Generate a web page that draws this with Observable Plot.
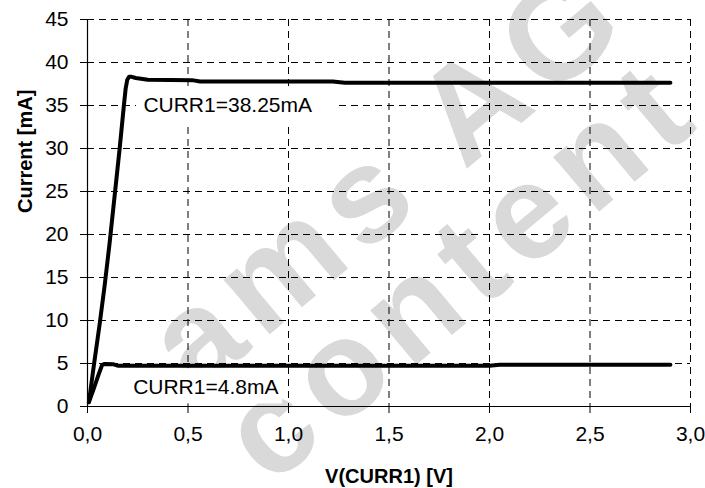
<!DOCTYPE html>
<html>
<head>
<meta charset="utf-8">
<script src="https://cdn.jsdelivr.net/npm/d3@7"></script>
<script src="https://cdn.jsdelivr.net/npm/@observablehq/plot@0.6"></script>
<style>
  html, body { margin: 0; padding: 0; background: #fff; }
  #chart svg { display: block; }
  .watermark text { letter-spacing: 12px; }
</style>
</head>
<body>
<div id="chart"></div>
<script>
// Upper curve (CURR1 = 38.25 mA)
const voltsHigh   = [0.007, 0.03, 0.06, 0.085, 0.11, 0.135, 0.16, 0.181, 0.19, 0.198, 0.207, 0.216, 0.24, 0.30, 0.52, 0.56, 1.22, 1.28, 2.90];
const currentHigh = [0.5,   4.5,  9.5,  14.0,  19.0, 24.5,  30.0, 35.0,  37.0, 38.0,  38.35, 38.35, 38.2, 38.0, 37.95, 37.8, 37.8, 37.65, 37.65];
// Lower curve (CURR1 = 4.8 mA)
const voltsLow    = [0.007, 0.03, 0.055, 0.073, 0.085, 0.13, 0.15, 2.00, 2.05, 2.90];
const currentLow  = [0.5,   2.0,  3.7,   4.85,  4.95,  4.9,  4.75, 4.75, 4.85, 4.85];

const xTicks = [0, 0.5, 1.0, 1.5, 2.0, 2.5, 3.0];
const yTicks = [0, 5, 10, 15, 20, 25, 30, 35, 40, 45];

const labelTexts = ["CURR1=38.25mA", "CURR1=4.8mA"];
const labelX = [0.278, 0.227];
const labelY = [35, 2.25];
// white boxes behind the labels (data coordinates)
const boxX1 = [0.244, 0.20];
const boxX2 = [1.247, 0.97];
const boxY1 = [33.0, 0.3];
const boxY2 = [37.0, 4.4];

const xTitle = "V(CURR1) [V]";
const yTitle = "Current [mA]";

const watermarkTexts = ["ams AG", "content"];
const watermarkX = [1.50, 1.86];
const watermarkY = [26.6, 15.8];

const highData = voltsHigh.map((v, i) => ({v, c: currentHigh[i]}));
const lowData = voltsLow.map((v, i) => ({v, c: currentLow[i]}));
const labels = labelTexts.map((t, i) => ({t, x: labelX[i], y: labelY[i]}));
const boxes = boxX1.map((x1, i) => ({x1, x2: boxX2[i], y1: boxY1[i], y2: boxY2[i]}));
const marks = watermarkTexts.map((t, i) => ({t, x: watermarkX[i], y: watermarkY[i]}));

const fmtX = d => d.toFixed(1).replace(".", ",");
const dash = "7,5";
const font = "'Liberation Sans', Arial, Helvetica, sans-serif";

const chart = Plot.plot({
  width: 705,
  height: 488,
  marginLeft: 87,
  marginRight: 15,
  marginTop: 19,
  marginBottom: 82,
  style: {fontFamily: font, fontSize: "21px", color: "#000", background: "#fff"},
  x: {domain: [0, 3], ticks: xTicks},
  y: {domain: [0, 45], ticks: yTicks},
  marks: [
    Plot.text(marks, {x: "x", y: "y", text: "t", rotate: -40, fontSize: 135, fontWeight: "bold",
      fill: "#d9d9d9", textAnchor: "middle", lineAnchor: "middle", fontFamily: font, className: "watermark"}),
    Plot.gridX(xTicks.filter(d => d > 0), {stroke: "#000", strokeOpacity: 1, strokeDasharray: dash, strokeWidth: 1}),
    Plot.gridY(yTicks.filter(d => d > 0), {stroke: "#000", strokeOpacity: 1, strokeDasharray: dash, strokeWidth: 1}),
    Plot.rect(boxes, {x1: "x1", x2: "x2", y1: "y1", y2: "y2", fill: "#fff"}),
    Plot.ruleX([0], {stroke: "#000", strokeWidth: 1.2}),
    Plot.ruleY([0], {stroke: "#000", strokeWidth: 1.2}),
    Plot.axisX(xTicks, {tickSize: 7, tickPadding: 13, tickFormat: fmtX, label: null, fontSize: 21}),
    Plot.axisY(yTicks, {tickSize: 7, tickPadding: 12, label: null, fontSize: 21}),
    Plot.line(lowData, {x: "v", y: "c", stroke: "#000", strokeWidth: 4, strokeLinejoin: "round", strokeLinecap: "round"}),
    Plot.line(highData, {x: "v", y: "c", stroke: "#000", strokeWidth: 4, strokeLinejoin: "round", strokeLinecap: "round"}),
    Plot.text(labels, {x: "x", y: "y", text: "t", textAnchor: "start", lineAnchor: "middle", fontSize: 21, fill: "#000"}),
    Plot.text([xTitle], {frameAnchor: "bottom", dy: 70, lineAnchor: "middle", fontSize: 20, fontWeight: "bold", fill: "#000"}),
    Plot.text([yTitle], {frameAnchor: "left", dx: -62, rotate: -90, lineAnchor: "middle", fontSize: 20, fontWeight: "bold", fill: "#000"})
  ]
});
document.getElementById("chart").appendChild(chart);
</script>
</body>
</html>
